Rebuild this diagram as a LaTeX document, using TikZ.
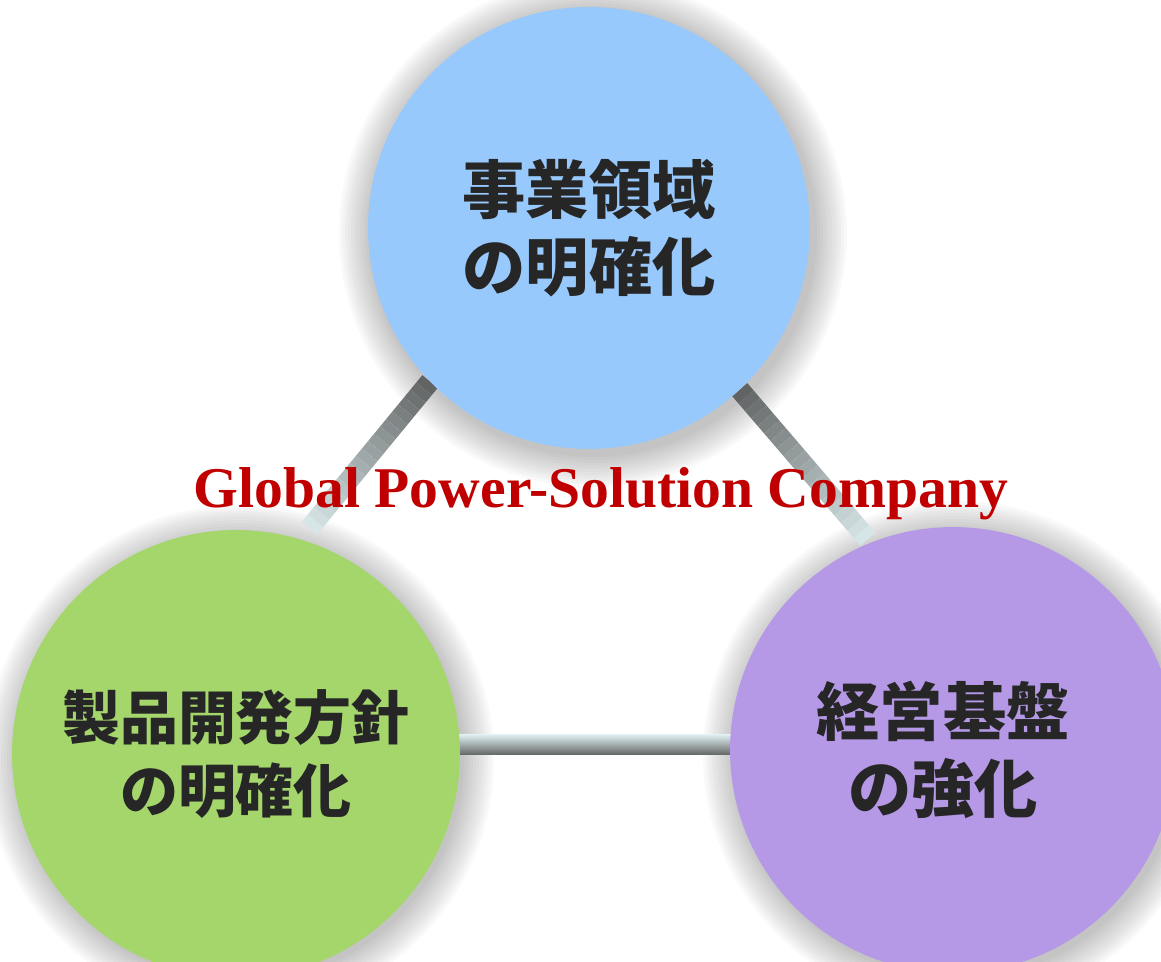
\documentclass[tikz,border=0pt]{standalone}
\usepackage{fontspec}
\setmainfont{Liberation Serif}
\newfontfamily\jpfont{Noto Sans CJK JP}
\usetikzlibrary{calc,backgrounds}
\definecolor{topblue}{HTML}{97C9FD}
\definecolor{leftgreen}{HTML}{A4D66C}
\definecolor{rightpurple}{HTML}{B599E6}
\definecolor{inkgray}{HTML}{262626}
\definecolor{titlered}{HTML}{C00000}
\definecolor{linedark}{HTML}{626464}
\definecolor{linelight}{HTML}{DCECEE}
\definecolor{linemid}{HTML}{B4C4C6}
\tikzset{
  bubble/.style={circle,inner sep=0pt,outer sep=0pt,align=center,text=inkgray,
    font=\jpfont\bfseries\fontsize{36}{44}\selectfont},
  bubbletext/.style={align=center,text=inkgray,
    font=\jpfont\bfseries\fontsize{36}{44}\selectfont},
  link/.style={line width=0.4cm},
  title/.style={font=\bfseries\fontsize{32.8}{38}\selectfont,anchor=base}
}
\begin{document}
\begin{tikzpicture}[x=0.02cm,y=-0.02cm]
\useasboundingbox (0,0) rectangle (1161,962);
% the three circles
\node[bubble,fill=topblue,minimum size=8.84cm] (top) at (589,228) {事業領域\\の明確化};
\node[bubble,fill=leftgreen,minimum size=8.96cm,
  font=\jpfont\bfseries\fontsize{33}{41.5}\selectfont] (left) at (236,754) {製品開発方針\\の明確化};
\node[bubble,fill=rightpurple,minimum size=8.92cm,
  label={[bubbletext,xshift=-0.2cm]center:経営基盤\\の強化}] (right) at (953,750) {};
% title
\node[title,text=titlered] (title) at (601,508) {Global Power-Solution Company};
\begin{scope}[on background layer]
  % soft shadows
  \foreach \n in {top,left,right}
    \foreach \k in {32,29,...,2}
      \fill[black,opacity=0.025] ($(\n.center)+(4,5)$) circle (222+\k);
  % connectors
  \coordinate (lefttip) at ($(left.center)!1.06!(left.72)$);
  \coordinate (righttip) at ($(right.center)!1.02!(right.112)$);
  \foreach \s/\e in {top.224/lefttip,top.313/righttip}
    \foreach \t in {0,...,19} {
      \pgfmathsetmacro\a{\t/20}
      \pgfmathsetmacro\b{(\t+1)/20}
      \pgfmathtruncatemacro\m{100-\t*5}
      \draw[link,linedark!\m!linelight] ($(\s)!\a!(\e)$) -- ($(\s)!\b!(\e)$);
    }
  \shade[top color=linelight,middle color=linemid,bottom color=linedark]
    (left.center |- 0,735) rectangle (right.center |- 0,755);
\end{scope}
\end{tikzpicture}
\end{document}
